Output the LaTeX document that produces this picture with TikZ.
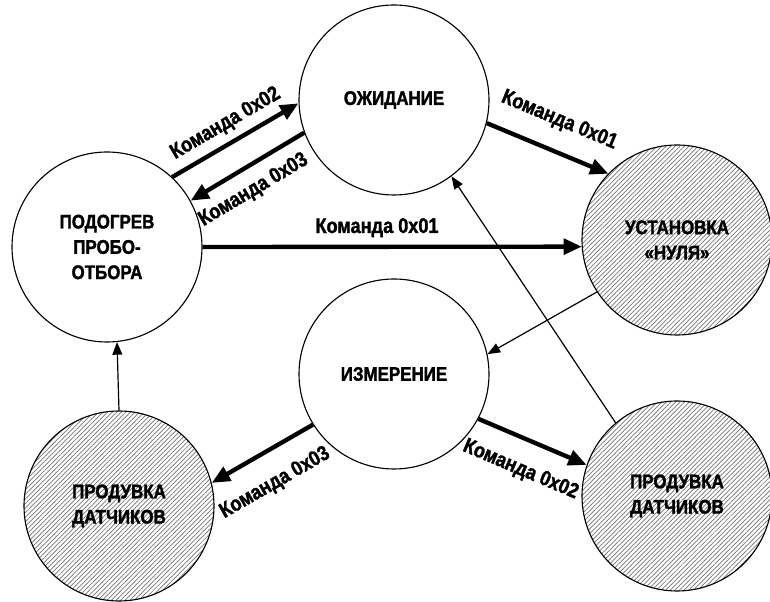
\documentclass[tikz,border=0pt]{standalone}
\usepackage{fontspec}
\setmainfont{Liberation Sans}[
    FakeStretch=0.86,
    BoldFont={Liberation Sans Bold},
    BoldFeatures={FakeStretch=0.86, FakeBold=1.6}
]
\usetikzlibrary{positioning}
\usetikzlibrary{arrows.meta}
\usetikzlibrary{patterns.meta}

\begin{document}
\begin{tikzpicture}[
    on grid,
    state/.style={
        circle,
        draw,
        line width=0.8pt,
        minimum size=4.75cm,
        align=center,
        font=\bfseries\fontsize{14}{18}\selectfont
    },
    hatched/.style={
        state,
        pattern={Lines[angle=45,distance=2.3pt,line width=0.5pt]},
        pattern color=black!55
    },
    cmd/.style={
        -{Triangle[length=13pt,width=11pt]},
        line width=3.1pt
    },
    link/.style={
        -{Triangle[length=9pt,width=7pt]},
        line width=0.85pt
    },
    lbl/.style={
        sloped,
        font=\bfseries\fontsize{15}{17}\selectfont
    }
]
    \useasboundingbox (-2.675,-8.875) rectangle (16.575,6.175);

    % --- States ---
    \node[state] (heat) {ПОДОГРЕВ\\ПРОБО-\\ОТБОРА};
    \node[state, above right=3.675cm and 7.175cm of heat] (wait) {ОЖИДАНИЕ};
    \node[hatched, below right=3.5cm and 7.075cm of wait] (zero) {УСТАНОВКА\\«НУЛЯ»};
    \node[state, below=6.85cm of wait] (meas) {ИЗМЕРЕНИЕ};
    \node[hatched, below right=6.475cm and 0.3cm of heat] (blowL) {ПРОДУВКА\\ДАТЧИКОВ};
    \node[hatched, below=6.4cm of zero] (blowR) {ПРОДУВКА\\ДАТЧИКОВ};

    % --- Commands ---
    \draw[cmd] (heat.47) -- node[lbl, above=2pt] {Команда 0x02} (wait.182);
    \draw[cmd] (wait.200) -- node[lbl, pos=0.55, below=5pt] {Команда 0x03} (heat.29);
    \draw[cmd] (heat.0) -- node[lbl, pos=0.46, above=2pt] {Команда 0x01} (zero.184);
    \draw[cmd] (wait.346) -- node[lbl, above=10pt] {Команда 0x01} (zero.136);
    \draw[cmd] (meas.332) -- node[lbl, below=10pt] {Команда 0x02} (blowR.161);
    \draw[cmd] (meas.212) -- node[lbl, pos=0.53, below=11pt] {Команда 0x03} (blowL.14);

    % --- Plain transitions ---
    \draw[link] (zero.213) -- (meas.12);
    \draw[link] (blowR.130) -- (wait.307);
    \draw[link] (blowL.90) -- (heat.276);
\end{tikzpicture}
\end{document}
